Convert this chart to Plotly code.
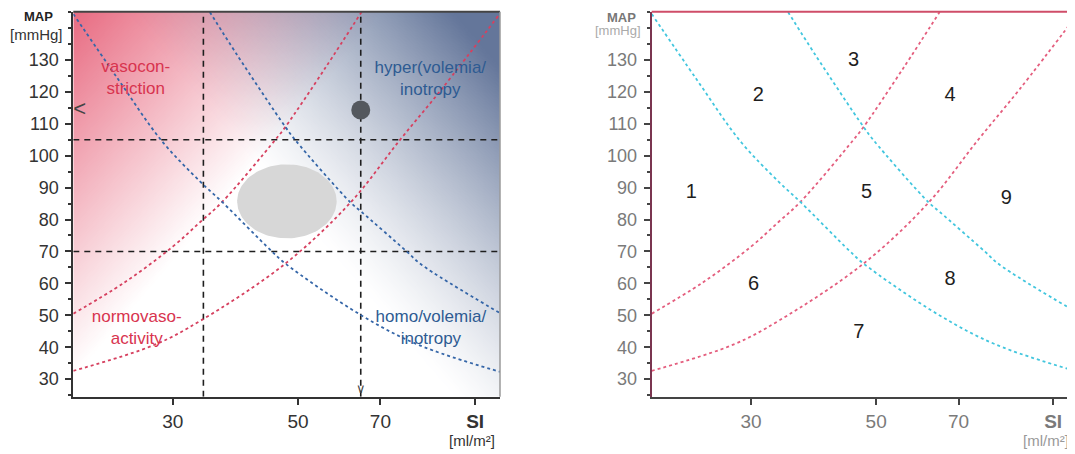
import numpy as np
import plotly.graph_objects as go

# ---------------- data ----------------
SI_TICKS = [30, 50, 70, 103]
SI_TICKTEXT = ["30", "50", "70", "<b>SI</b>"]
MAP_TICKS = [30, 40, 50, 60, 70, 80, 90, 100, 110, 120, 130]
SI_RANGE_L = [20, 114]
SI_RANGE_R = [20, 114]
MAP_RANGE = [24.5, 145.1]

# iso-resistance curves (red) and iso-volemia/inotropy curves (blue)
red_upper_si = [20, 24.6, 30, 33.6, 36.7, 45.5, 47.5, 56, 64.8]
red_upper_map = [50.5, 60.2, 71.5, 79.3, 85.5, 104.8, 109, 127.7, 145]
red_lower_si = [20, 27.9, 33.6, 47.5, 62, 75.7, 90, 114]
red_lower_map = [32.6, 40.8, 48.3, 66.2, 85.4, 104.8, 121, 144.5]
blue_upper_si = [34.9, 39, 47.5, 49.5, 62, 64.8, 77.8, 82.7, 114.5]
blue_upper_map = [145, 131.6, 109, 104.8, 85.3, 82.4, 70.1, 65.9, 50.5]
blue_lower_si = [20, 24, 28.7, 33.6, 36.7, 44.9, 47.5, 64.6, 81.6, 114.5]
blue_lower_map = [144.4, 124, 104.6, 91.8, 85.5, 70.1, 66.2, 50.1, 40.8, 32.2]

# reference (dashed) thresholds
thr_si = [34, 64.6]
thr_map = [70, 105]

# patient point and target region
patient_si = [64.6]
patient_map = [114.3]
target_center = (47.8, 85.7)   # SI, MAP
target_half_si_log = 0.0881    # half width in log10(SI)
target_half_map = 11.6

# region labels (left panel)
left_labels = ["vasocon-<br>striction", "hyper(volemia/<br>inotropy",
               "normovaso-<br>activity", "homo/volemia/<br>inotropy"]
left_label_si = [25.8, 85.8, 25.9, 86.0]
left_label_map = [124.0, 123.9, 45.7, 45.7]
left_label_col = ["#d8344f", "#2e5b92", "#d8344f", "#2e5b92"]

# region numbers (right panel)
region_nums = ["1", "2", "3", "4", "5", "6", "7", "8", "9"]
region_si = [23.5, 30.9, 45.6, 67.6, 48.1, 30.3, 46.6, 67.6, 85.1]
region_map = [88.4, 118.8, 129.8, 118.8, 88.4, 59.6, 44.5, 61.2, 86.3]

FONT = "Liberation Sans, Arial, sans-serif"
W, H = 1075, 454
OFF = 8  # page body margin in the browser


def px(x):
    return (x - OFF) / W


def py(y):
    return 1 - (y - OFF) / H


fig = go.Figure()

# ---------------- left panel background gradient ----------------
gx = np.logspace(np.log10(SI_RANGE_L[0]), np.log10(SI_RANGE_L[1]), 120)
gy = np.linspace(MAP_RANGE[0], MAP_RANGE[1], 120)
U = np.log(gx / SI_RANGE_L[0]) / np.log(SI_RANGE_L[1] / SI_RANGE_L[0])
V = (gy - MAP_RANGE[0]) / (MAP_RANGE[1] - MAP_RANGE[0])
UU, VV = np.meshgrid(U, V)
Lr = VV - 1.3 * UU
ar = 0.8 * np.clip((Lr - 0.05) / 0.95, 0, 1)
Lb = VV - 1.3 * (1 - UU)
ab = 0.82 * np.clip(Lb + 0.15, 0, 1) ** 1.3

fig.add_trace(go.Heatmap(x=gx, y=gy, z=ar, zmin=0, zmax=1, zsmooth="best",
                         colorscale=[[0, "rgba(226,70,98,0)"], [1, "rgba(226,70,98,1)"]],
                         showscale=False, hoverinfo="skip", xaxis="x", yaxis="y"))
fig.add_trace(go.Heatmap(x=gx, y=gy, z=ab, zmin=0, zmax=1, zsmooth="best",
                         colorscale=[[0, "rgba(66,88,132,0)"], [1, "rgba(66,88,132,1)"]],
                         showscale=False, hoverinfo="skip", xaxis="x", yaxis="y"))

# target ellipse
t = np.linspace(0, 2 * np.pi, 120)
ex = 10 ** (np.log10(target_center[0]) + target_half_si_log * np.cos(t))
ey = target_center[1] + target_half_map * np.sin(t)
fig.add_trace(go.Scatter(x=ex, y=ey, mode="lines", fill="toself",
                         fillcolor="#d7d7d7", line=dict(width=0),
                         hoverinfo="skip", xaxis="x", yaxis="y"))

# dashed reference lines
for s in thr_si:
    fig.add_trace(go.Scatter(x=[s, s], y=MAP_RANGE, mode="lines",
                             line=dict(color="#1e1e1e", width=1.6, dash="6px,5px"),
                             hoverinfo="skip", xaxis="x", yaxis="y"))
for m in thr_map:
    fig.add_trace(go.Scatter(x=SI_RANGE_L, y=[m, m], mode="lines",
                             line=dict(color="#1e1e1e", width=1.6, dash="6px,5px"),
                             hoverinfo="skip", xaxis="x", yaxis="y"))


def add_curves(xa, ya, red, blue):
    for xs, ys, c in [(red_upper_si, red_upper_map, red),
                      (red_lower_si, red_lower_map, red),
                      (blue_upper_si, blue_upper_map, blue),
                      (blue_lower_si, blue_lower_map, blue)]:
        fig.add_trace(go.Scatter(x=xs, y=ys, mode="lines",
                                 line=dict(color=c, width=1.8, dash="dot", shape="spline"),
                                 hoverinfo="skip", xaxis=xa, yaxis=ya))


add_curves("x", "y", "#d6405f", "#3566a8")
add_curves("x2", "y2", "#e45e7e", "#42c6de")

# patient point
fig.add_trace(go.Scatter(x=patient_si, y=patient_map, mode="markers",
                         marker=dict(size=19, color="#54585e"),
                         hoverinfo="skip", xaxis="x", yaxis="y"))
# arrows at axes
fig.add_trace(go.Scatter(x=[SI_RANGE_L[0]], y=patient_map, mode="text", text=["<"],
                         textposition="middle right",
                         textfont=dict(family="Liberation Sans", size=22, color="#444"),
                         hoverinfo="skip", xaxis="x", yaxis="y"))
fig.add_trace(go.Scatter(x=patient_si, y=[MAP_RANGE[0]], mode="text", text=["\u2228"],
                         textposition="top center",
                         textfont=dict(family="DejaVu Sans", size=13, color="#444"),
                         hoverinfo="skip", xaxis="x", yaxis="y"))

# left labels
fig.add_trace(go.Scatter(x=left_label_si, y=left_label_map, mode="text", text=left_labels,
                         textposition="middle center",
                         textfont=dict(family=FONT, size=17, color=left_label_col),
                         hoverinfo="skip", xaxis="x", yaxis="y"))

# right region numbers
fig.add_trace(go.Scatter(x=region_si, y=region_map, mode="text", text=region_nums,
                         textposition="middle center",
                         textfont=dict(family=FONT, size=20, color="#1e1e1e"),
                         hoverinfo="skip", xaxis="x2", yaxis="y2"))

# ---------------- layout ----------------
ydom = [py(396.7), py(11.7)]
common_x = dict(type="log", tickvals=SI_TICKS, ticktext=SI_TICKTEXT,
                ticks="outside", ticklen=6, tickwidth=2, showgrid=False,
                zeroline=False, showline=True, linewidth=2, ticklabelstandoff=0)
common_y = dict(range=MAP_RANGE, tickvals=MAP_TICKS, ticks="outside", ticklen=6,
                tickwidth=2, showgrid=False, zeroline=False, showline=True,
                linewidth=2, ticklabelstandoff=3,
                minor=dict(dtick=5, ticks="outside", ticklen=3, tickwidth=1.5))


def ann(text, x, y, size, color):
    return dict(text=text, x=px(x), y=py(y), xref="paper", yref="paper",
                xanchor="center", yanchor="middle", showarrow=False,
                font=dict(family=FONT, size=size, color=color))


fig.update_layout(
    width=W, height=H, margin=dict(l=0, r=0, t=0, b=0),
    paper_bgcolor="white", plot_bgcolor="white", showlegend=False,
    xaxis=dict(common_x, domain=[px(73.3), px(500)],
               range=[np.log10(SI_RANGE_L[0]), np.log10(SI_RANGE_L[1])],
               linecolor="#333", tickcolor="#333",
               tickfont=dict(family=FONT, size=19, color="#333"), anchor="y"),
    yaxis=dict(common_y, domain=ydom, linecolor="#333", tickcolor="#333",
               minor_tickcolor="#333",
               tickfont=dict(family=FONT, size=18, color="#333"), anchor="x"),
    xaxis2=dict(common_x, domain=[px(651.7), px(1078)],
                range=[np.log10(SI_RANGE_R[0]), np.log10(SI_RANGE_R[1])],
                linecolor="#444", tickcolor="#444",
                tickfont=dict(family=FONT, size=19, color="#7a7a7a"), anchor="y2"),
    yaxis2=dict(common_y, domain=ydom, linecolor="#7a3550", tickcolor="#444",
                minor_tickcolor="#444",
                tickfont=dict(family=FONT, size=18, color="#7a7a7a"), anchor="x2"),
    shapes=[
        dict(type="line", xref="x domain", yref="y domain", x0=0, x1=1, y0=1, y1=1,
             line=dict(color="#444", width=2)),
        dict(type="line", xref="x domain", yref="y domain", x0=1, x1=1, y0=0, y1=1,
             line=dict(color="#9a9a9a", width=1.5)),
        dict(type="line", xref="x2 domain", yref="y2 domain", x0=0, x1=1, y0=1, y1=1,
             line=dict(color="#cf4d68", width=2)),
    ],
    annotations=[
        ann("<b>MAP</b>", 38, 16.5, 13, "#222"),
        ann("[mmHg]", 36, 34, 15, "#333"),
        ann("[ml/m²]", 471.7, 440, 15, "#333"),
        ann("<b>MAP</b>", 621, 17, 13, "#777"),
        ann("[mmHg]", 618, 31, 13, "#aaa"),
        ann("[ml/m²]", 1046, 440, 15, "#999"),
    ],
)

fig.write_html("out.html")
